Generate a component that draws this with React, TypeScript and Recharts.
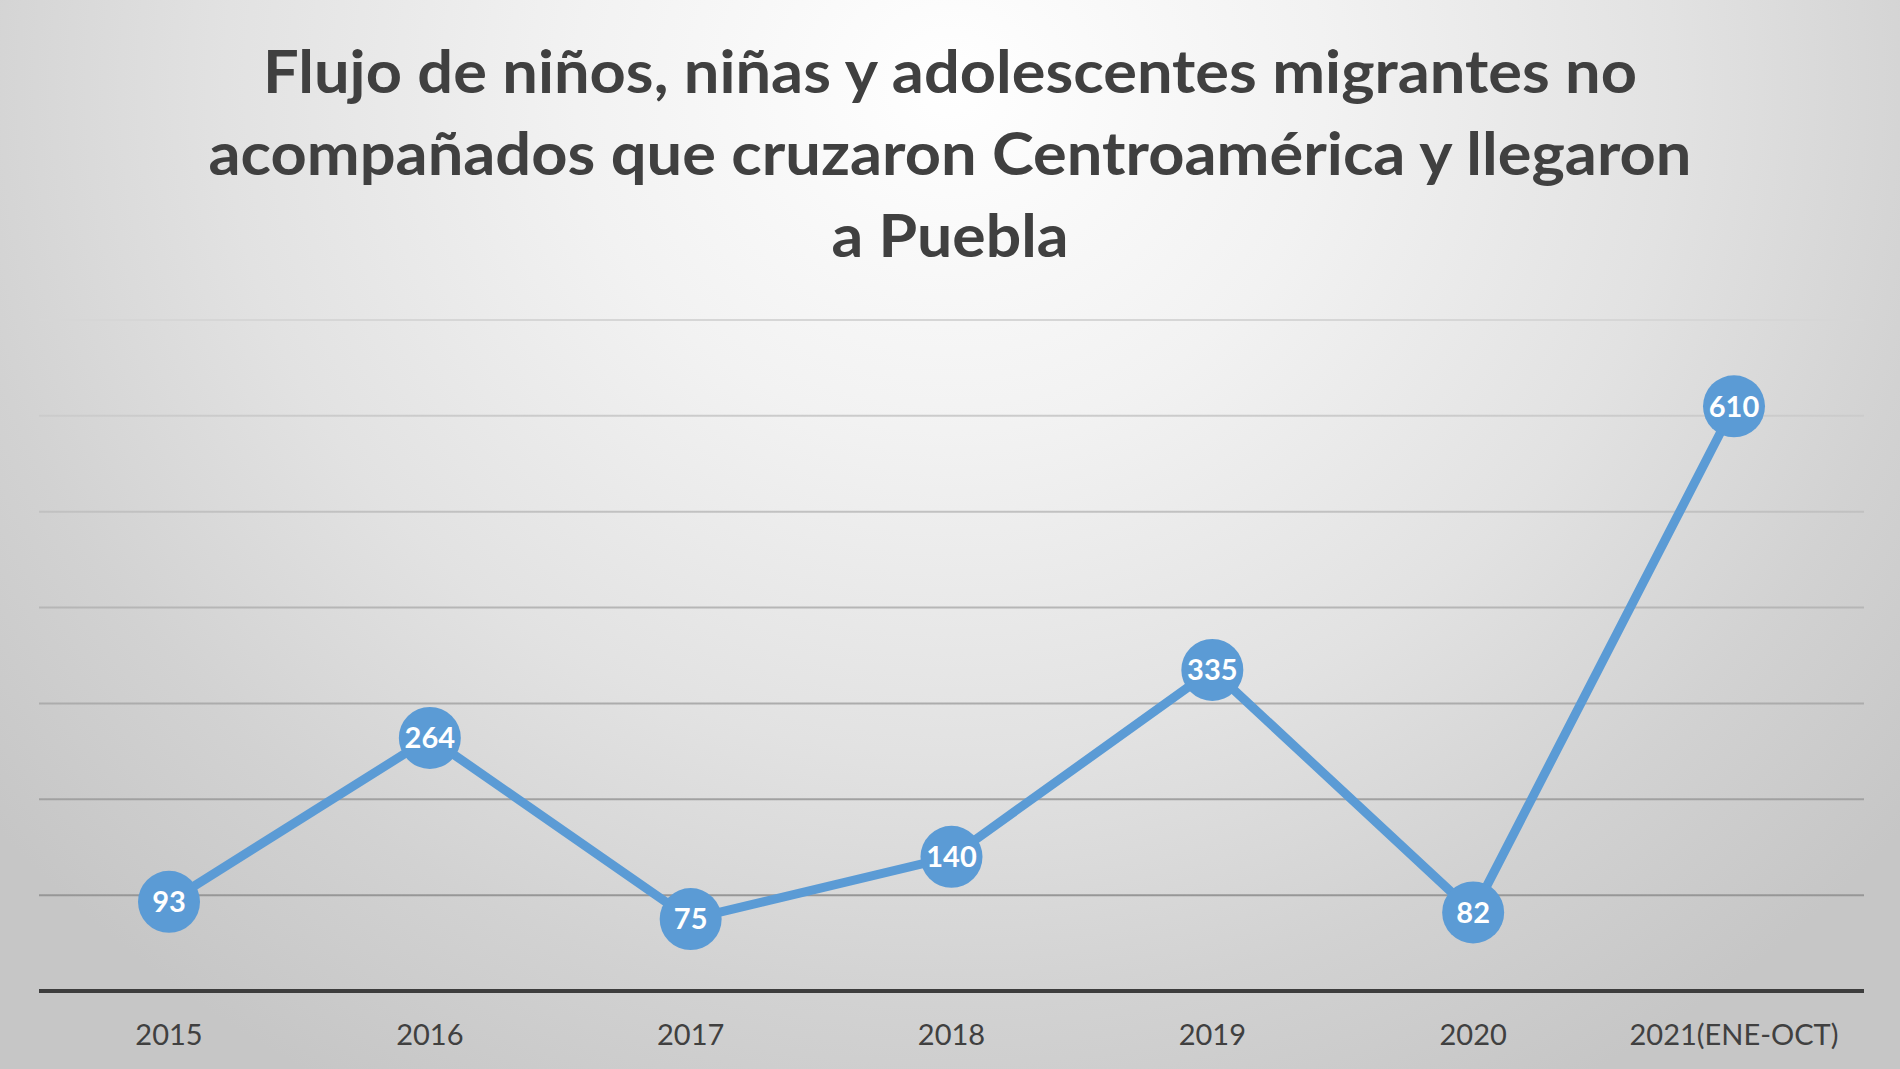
import React from "react";
import { CartesianGrid, LabelList, Line, LineChart, XAxis, YAxis } from "recharts";

const years = ["2015", "2016", "2017", "2018", "2019", "2020", "2021(ENE-OCT)"];
const flujo = [93, 264, 75, 140, 335, 82, 610];
const yTicks = [0, 100, 200, 300, 400, 500, 600, 700];
const titleLines = [
  "Flujo de niños, niñas y adolescentes migrantes no",
  "acompañados que cruzaron Centroamérica y llegaron",
  "a Puebla",
];

const data = years.map((year, i) => ({ year, value: flujo[i] }));

const FONT = "Lato, 'Open Sans', sans-serif";
const BLUE = "#5b9bd5";

export default function App() {
  const titleWidths = [1374, 1483, 237];
  return (
    <div
      style={{
        position: "absolute",
        left: 0,
        top: 0,
        width: 1900,
        height: 1069,
        overflow: "hidden",
        background:
          "radial-gradient(ellipse 1250px 1150px at 50% 8%, #ffffff 0%, #f2f2f2 30%, #e2e2e2 58%, #d2d2d2 80%, #c6c6c6 100%)",
      }}
    >
      <svg width={1900} height={300} style={{ position: "absolute", left: 0, top: 0 }}>
        {titleLines.map((line, i) => (
          <text
            key={i}
            x={950}
            y={93 + i * 82}
            textAnchor="middle"
            fontFamily={FONT}
            fontWeight={700}
            fontSize={60}
            fill="#404040"
            textLength={titleWidths[i]}
            lengthAdjust="spacingAndGlyphs"
          >
            {line}
          </text>
        ))}
      </svg>
      <LineChart
        width={1900}
        height={1069}
        data={data}
        margin={{ top: 320, right: 36, bottom: 18, left: 39 }}
        style={{ position: "absolute", left: 0, top: 0 }}
      >
        <defs>
          <linearGradient id="gridFade" gradientUnits="userSpaceOnUse" x1="0" y1="320" x2="0" y2="991">
            <stop offset="0%" stopColor="#d6d6d6" />
            <stop offset="100%" stopColor="#8c8c8c" />
          </linearGradient>
        </defs>
        <CartesianGrid vertical={false} stroke="url(#gridFade)" strokeWidth={2} />
        <YAxis hide domain={[0, 700]} ticks={yTicks} />
        <XAxis
          dataKey="year"
          height={60}
          padding={{ left: 130, right: 130 }}
          axisLine={{ stroke: "#3d3d3d", strokeWidth: 4 }}
          tickLine={false}
          tickSize={6}
          tickMargin={27}
          tick={{ fill: "#404040", fontSize: 29, fontFamily: FONT }}
          interval={0}
        />
        <Line
          type="linear"
          dataKey="value"
          stroke={BLUE}
          strokeWidth={9}
          dot={{ r: 31, fill: BLUE, stroke: "none" }}
          activeDot={false}
          isAnimationActive={false}
        >
          <LabelList
            dataKey="value"
            position="center"
            fill="#ffffff"
            fontSize={29}
            fontWeight={700}
            fontFamily={FONT}
          />
        </Line>
      </LineChart>
    </div>
  );
}
